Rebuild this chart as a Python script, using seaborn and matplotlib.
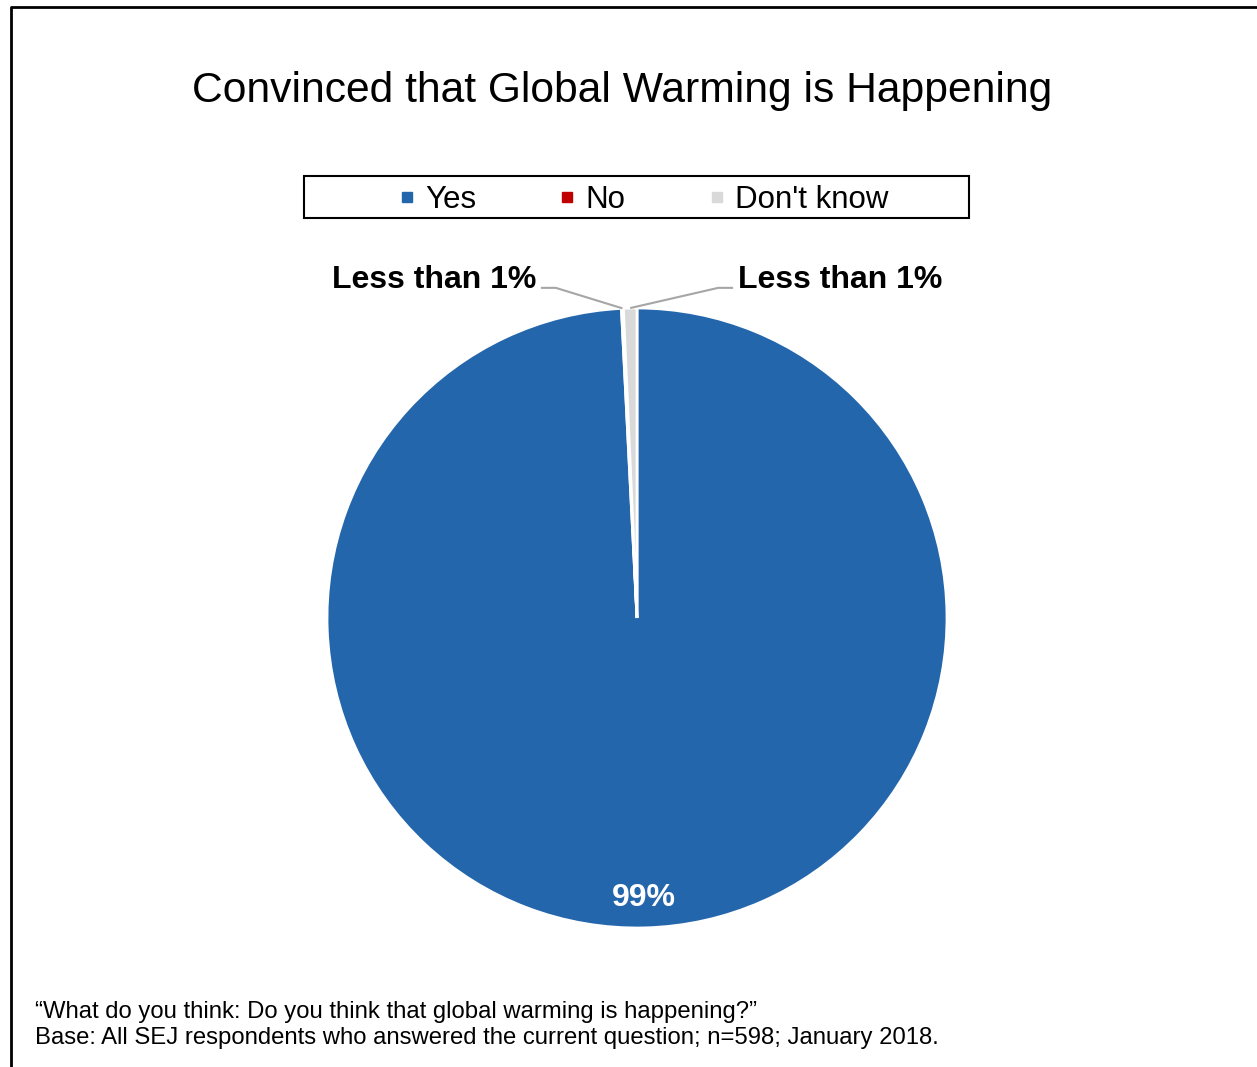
import numpy as np
import matplotlib
matplotlib.use("Agg")
import matplotlib.pyplot as plt
from matplotlib.lines import Line2D
from matplotlib.patches import Rectangle
import seaborn as sns

# --- data ---
categories = ["Yes", "No", "Don't know"]
shares = [99.2, 0.1, 0.7]
slice_labels = ["99%", "Less than 1%", "Less than 1%"]
colors = ["#2366AC", "#C00000", "#D9D9D9"]

title = "Convinced that Global Warming is Happening"
note = ("\u201cWhat do you think: Do you think that global warming is happening?\u201d\n"
        "Base: All SEJ respondents who answered the current question; n=598; January 2018.")

sns.set_theme(style="white")
plt.rcParams['font.family'] = ['Liberation Sans', 'DejaVu Sans']
plt.rcParams['text.color'] = 'black'

W, H = 1257, 1067
fig = plt.figure(figsize=(W / 100, H / 100), dpi=100)

# pie axes: center (637, 618), radius 310 px
cx, cy, r = 637, 618, 310
ax = fig.add_axes([(cx - r) / W, (H - cy - r) / H, 2 * r / W, 2 * r / H])
wedges, _ = ax.pie(shares, colors=colors, startangle=90, counterclock=False,
                   radius=1, wedgeprops=dict(edgecolor="white", linewidth=2))
ax.set_xlim(-1, 1)
ax.set_ylim(-1, 1)
ax.set_aspect("equal")
ax.axis("off")

# 99% label inside the big slice
w0 = wedges[0]
mid = np.deg2rad((w0.theta1 + w0.theta2) / 2)
ax.text(0.9 * np.cos(mid), 0.9 * np.sin(mid) - 0.005, slice_labels[0], color="white",
        fontsize=23, fontweight="bold", ha="center", va="center")

# small slices with leader lines
line_col = "#A6A6A6"
for i, side in [(1, -1), (2, 1)]:
    w = wedges[i]
    a = np.deg2rad((w.theta1 + w.theta2) / 2)
    px, py = 1.0 * np.cos(a), 1.0 * np.sin(a)
    elbow_x, end_x, ly = 0.262 * side, 0.31 * side, 1.065
    ax.plot([px, elbow_x, end_x], [py, ly, ly], color=line_col, lw=1.5,
            clip_on=False, solid_capstyle="butt")
    ax.text(end_x + 0.015 * side, 1.09, slice_labels[i], fontsize=23,
            fontweight="bold", ha="left" if side > 0 else "right", va="center")

# title
fig.text(622 / W, 1 - 91 / H, title, fontsize=30.7, ha="center", va="center")

# legend with separate rectangular frame
handles = [Line2D([], [], marker="s", linestyle="none", markersize=7,
                  markerfacecolor=c, markeredgecolor=c) for c in colors]
fig.legend(handles, categories, loc="center", bbox_to_anchor=(643 / W, 1 - 200 / H),
           ncol=3, frameon=False, fontsize=22.5, handlelength=0.6,
           handletextpad=0.3, columnspacing=2.6)
fig.add_artist(Rectangle((304 / W, 1 - 218 / H), 665 / W, 42 / H,
                         transform=fig.transFigure, fill=False,
                         edgecolor="black", linewidth=1.5))

# outer border (left and top only)
fig.add_artist(Line2D([11 / W, 11 / W, 1], [0, 1 - 7 / H, 1 - 7 / H],
                      transform=fig.transFigure, color="black", linewidth=2))

# footnote
fig.text(35 / W, 1 - 1025 / H, note, fontsize=17.2, ha="left", va="center",
         linespacing=1.22)

fig.savefig("out.png", dpi=100, facecolor="white")
